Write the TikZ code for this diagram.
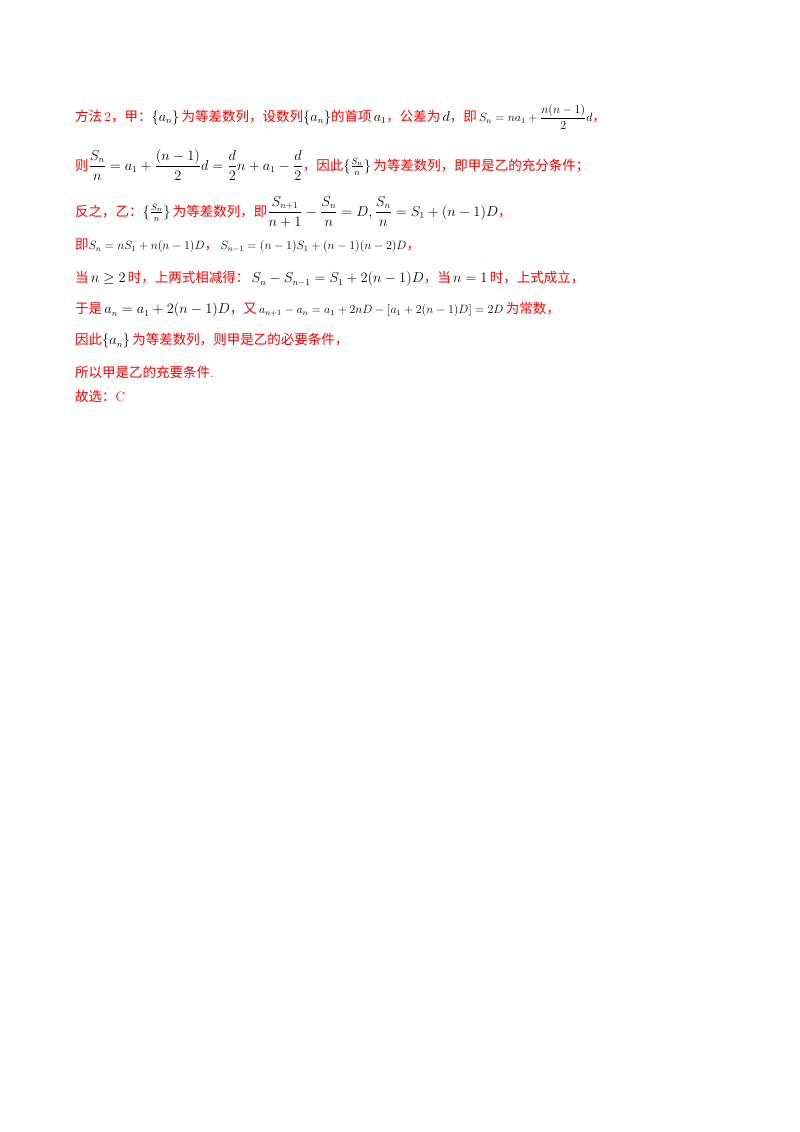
\documentclass[tikz,border=0pt]{standalone}
\usepackage{amsmath,amssymb}
\usepackage{fontspec}
\newfontfamily\cjk{Noto Sans CJK SC}
\newcommand{\R}[1]{{\color{red}\cjk #1}}
\newcommand{\sm}[1]{{\fontsize{11.5}{14}\selectfont$#1$}}
\begin{document}
\begin{tikzpicture}[x=1pt,y=1pt,
  ln/.style={anchor=west,inner sep=0pt,font=\fontsize{13.5}{16}\selectfont}]
\useasboundingbox (0,0) rectangle (800,-1132);
\fill[white] (0,0) rectangle (800,-1132);
\node[ln] (l1) at (75,-117) {\R{方法}\,{\color{red}2}\R{，甲：}$\{a_n\}$\,\R{为等差数列，设数列}$\{a_n\}$\R{的首项}\,$a_1$\R{，公差为}\,$d$\R{，即}\,\sm{S_n=na_1+\dfrac{n(n-1)}{2}d}\R{，}};
\node[ln] (l2) at (75,-165) {\R{则}$\dfrac{S_n}{n}=a_1+\dfrac{(n-1)}{2}d=\dfrac{d}{2}n+a_1-\dfrac{d}{2}$\R{，因此}$\{\frac{S_n}{n}\}$\,\R{为等差数列，即甲是乙的充分条件；}};
\node[ln] (l3) at (75,-212) {\R{反之，乙：}$\{\frac{S_n}{n}\}$\,\R{为等差数列，即}$\dfrac{S_{n+1}}{n+1}-\dfrac{S_n}{n}=D,\dfrac{S_n}{n}=S_1+(n-1)D$\R{，}};
\node[ln] (l4) at (75,-246) {\R{即}\sm{S_n=nS_1+n(n-1)D}\R{，}\,\sm{S_{n-1}=(n-1)S_1+(n-1)(n-2)D}\R{，}};
\node[ln] (l5) at (75,-279) {\R{当}\,$n\geq 2$\,\R{时，上两式相减得：}\,$S_n-S_{n-1}=S_1+2(n-1)D$\R{，当}\,$n=1$\,\R{时，上式成立，}};
\node[ln] (l6) at (75,-310) {\R{于是}\,$a_n=a_1+2(n-1)D$\R{，又}\,\sm{a_{n+1}-a_n=a_1+2nD-[a_1+2(n-1)D]=2D}\,\R{为常数，}};
\node[ln] (l7) at (75,-341) {\R{因此}$\{a_n\}$\,\R{为等差数列，则甲是乙的必要条件，}};
\node[ln] (l8) at (75,-372) {\R{所以甲是乙的充要条件}{\color{red}.}};
\node[ln] (l9) at (75,-396) {\R{故选：}{\color{red}C}};
\end{tikzpicture}
\end{document}
